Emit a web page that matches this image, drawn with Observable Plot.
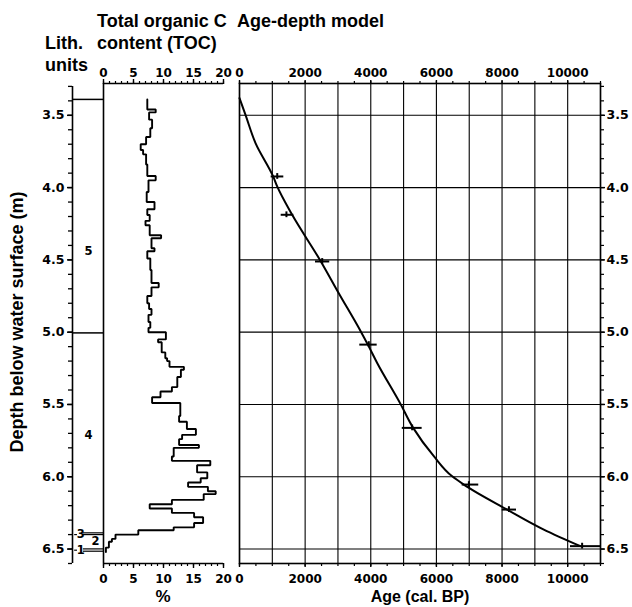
<!DOCTYPE html>
<html><head><meta charset="utf-8">
<script src="https://cdn.jsdelivr.net/npm/d3@7"></script>
<script src="https://cdn.jsdelivr.net/npm/@observablehq/plot@0.6"></script>
<style>
body{margin:0;background:#fff;}
#wrap{position:relative;width:632px;height:607px;overflow:hidden;font-family:"Liberation Sans",Arial,sans-serif;font-weight:bold;color:#000;}
#wrap svg{position:absolute;left:0;top:0;}
.t{position:absolute;white-space:nowrap;font-size:18px;line-height:1;}
</style></head><body><div id="wrap"></div>
<script>
// ---------- data ----------
const depthDomain = [3.28, 6.6];
const depthMajorTicks = [3.5, 4.0, 4.5, 5.0, 5.5, 6.0, 6.5];
const depthMinorTicks = [3.3,3.4,3.5,3.6,3.7,3.8,3.9,4.0,4.1,4.2,4.3,4.4,4.5,4.6,4.7,4.8,4.9,5.0,5.1,5.2,5.3,5.4,5.5,5.6,5.7,5.8,5.9,6.0,6.1,6.2,6.3,6.4,6.5,6.6];
const depthAxisSpan = [3.3, 6.6];

const tocMajorTicks = [0, 5, 10, 15, 20];
const tocMinorTicks = [0,1,2,3,4,5,6,7,8,9,10,11,12,13,14,15,16,17,18,19,20];

const ageMajorTicks = [0, 2000, 4000, 6000, 8000, 10000];
const ageGridTicks = [0,1000,2000,3000,4000,5000,6000,7000,8000,9000,10000,11000];
const ageMinorTicks = [0,500,1000,1500,2000,2500,3000,3500,4000,4500,5000,5500,6000,6500,7000,7500,8000,8500,9000,9500,10000,10500,11000];

// lithological units
const lithBoundaries = [3.39, 5.005];
const lithThinLines = [6.388, 6.400, 6.499, 6.515];
const lithLeaders = [6.40, 6.508];
const lithLabelText = ["5", "4", "3", "2", "1"];
const lithLabelDepth = [4.44, 5.715, 6.40, 6.445, 6.508];
const lithLabelPos = [0.52, 0.52, 0.27, 0.74, 0.27];

// TOC (%) step profile: top depth of each sample interval and its value
const tocTopDepth = [3.39,3.46,3.48,3.53,3.59,3.65,3.70,3.74,3.77,3.84,3.92,3.95,4.03,4.10,4.15,4.19,4.23,4.26,4.33,4.35,4.42,4.44,4.49,4.57,4.66,4.69,4.75,4.80,4.84,4.88,4.93,4.97,5.00,5.05,5.07,5.14,5.18,5.20,5.24,5.26,5.31,5.38,5.41,5.45,5.49,5.58,5.62,5.67,5.71,5.74,5.78,5.80,5.86,5.89,5.92,5.97,6.01,6.04,6.07,6.10,6.12,6.16,6.19,6.22,6.25,6.28,6.32,6.35,6.37,6.40,6.43,6.45,6.49];
const tocValue = [7.3,8.7,7.6,8.1,7.8,7.1,6.2,6.6,7.1,7.3,8.7,7.5,7.2,8.5,7.3,7.7,7.0,7.7,9.6,8.0,8.5,7.3,7.8,8.0,9.2,8.0,7.3,7.6,8.0,7.5,7.8,7.5,10.4,9.1,9.7,10.3,10.6,11.0,13.4,12.9,12.3,11.4,9.5,8.1,12.8,12.6,13.9,15.4,13.1,12.6,15.9,11.7,11.4,17.8,15.6,17.3,16.2,14.1,17.4,18.7,16.7,11.4,7.7,11.4,15.1,16.6,15.1,11.7,5.8,2.0,1.4,0.9,0.4];
const tocBottomDepth = 6.52;

// age-depth model curve
const curveAge = [0,183,488,1026,1148,1605,2448,3020,3700,3910,4195,4905,5292,5921,6481,6835,8156,9272,10390];
const curveDepth = [3.381,3.497,3.692,3.923,3.992,4.188,4.499,4.729,4.997,5.086,5.213,5.496,5.662,5.858,5.997,6.054,6.227,6.365,6.48];

// calibrated dates with age ranges
const dateDepth = [3.923, 4.188, 4.511, 5.086, 5.662, 6.054, 6.227, 6.48];
const dateAge = [1150, 1430, 2520, 3940, 5260, 6990, 8210, 10440];
const dateAgeMin = [965, 1270, 2315, 3665, 4960, 6785, 8005, 10085];
const dateAgeMax = [1350, 1655, 2750, 4195, 5565, 7290, 8440, 11000];
const dateTickHalf = 0.02;

// ---------- build ----------
const W = 632, H = 607, MT = 83, MB = 44;
const style = {fontFamily: "DejaVu Sans", fontWeight: "bold", fontSize: "12px", background: "transparent", overflow: "visible", color: "#000"};
const fmt1 = d3.format(".1f");
const blank = () => "";
const wrap = document.getElementById("wrap");

function place(svg){ wrap.appendChild(svg); }

// Panel 1: depth axis + lith units
place(Plot.plot({
  width: W, height: H, marginTop: MT, marginBottom: MB, marginLeft: 72, marginRight: W - 103,
  style,
  x: {domain: [0, 1], axis: null},
  y: {domain: depthDomain, reverse: true},
  marks: [
    Plot.ruleX([0], {y1: depthAxisSpan[0], y2: depthAxisSpan[1], strokeWidth: 1.6}),
    Plot.axisY({anchor: "left", ticks: depthMinorTicks, tickSize: 4, tickFormat: blank, label: null, strokeWidth: 1.3}),
    Plot.axisY({anchor: "left", ticks: depthMajorTicks, tickSize: 5, tickPadding: 3, tickFormat: fmt1, label: null, strokeWidth: 1.5, fontSize: 12.5}),
    Plot.ruleY(lithBoundaries, {x1: 0, x2: 1, strokeWidth: 1.5}),
    Plot.ruleY(lithThinLines, {x1: 0.35, x2: 1, strokeWidth: 1.2}),
    Plot.ruleY(lithLeaders, {x1: 0.07, x2: 0.16, strokeWidth: 1.2}),
    Plot.text(lithLabelText.map((t, i) => ({t, x: lithLabelPos[i], y: lithLabelDepth[i]})),
      {x: "x", y: "y", text: "t", fontSize: 11.5, fontWeight: "bold"})
  ]
}));

// Panel 2: TOC
const tocPts = [];
tocValue.forEach((v, i) => {
  const top = tocTopDepth[i];
  const bot = i + 1 < tocTopDepth.length ? tocTopDepth[i + 1] : tocBottomDepth;
  tocPts.push({x: v, y: top}, {x: v, y: bot});
});
place(Plot.plot({
  width: W, height: H, marginTop: MT, marginBottom: MB, marginLeft: 103, marginRight: W - 223,
  style,
  x: {domain: [0, 20]},
  y: {domain: depthDomain, reverse: true, axis: null},
  marks: [
    Plot.ruleX([0], {strokeWidth: 1.6}),
    Plot.ruleY(depthDomain, {strokeWidth: 1.4}),
    Plot.axisX({anchor: "top", ticks: tocMinorTicks, tickSize: 3, tickFormat: blank, label: null, strokeWidth: 1.2}),
    Plot.axisX({anchor: "top", ticks: tocMajorTicks, tickSize: 5, tickPadding: 2, label: null, strokeWidth: 1.4}),
    Plot.axisX({anchor: "bottom", ticks: tocMinorTicks, tickSize: 3, tickFormat: blank, label: null, strokeWidth: 1.2}),
    Plot.axisX({anchor: "bottom", ticks: tocMajorTicks, tickSize: 5, tickPadding: 6, label: null, strokeWidth: 1.4}),
    Plot.line(tocPts, {x: "x", y: "y", stroke: "#000", strokeWidth: 1.9, strokeLinejoin: "miter"})
  ]
}));

// Panel 3: age-depth model
const curvePts = curveAge.map((a, i) => ({a, d: curveDepth[i]}));
const dates = dateAge.map((a, i) => ({a, lo: dateAgeMin[i], hi: dateAgeMax[i], d: dateDepth[i], d1: dateDepth[i] - dateTickHalf, d2: dateDepth[i] + dateTickHalf}));
place(Plot.plot({
  width: W, height: H, marginTop: MT, marginBottom: MB, marginLeft: 239, marginRight: W - 600,
  style,
  x: {domain: [0, 11000]},
  y: {domain: depthDomain, reverse: true},
  marks: [
    Plot.gridX({ticks: ageGridTicks, stroke: "#000", strokeOpacity: 1, strokeWidth: 1.1}),
    Plot.gridY({ticks: depthMajorTicks, stroke: "#000", strokeOpacity: 1, strokeWidth: 1.1}),
    Plot.frame({strokeWidth: 1.6}),
    Plot.axisX({anchor: "top", ticks: ageMinorTicks, tickSize: 3, tickFormat: blank, label: null, strokeWidth: 1.2}),
    Plot.axisX({anchor: "top", ticks: ageMajorTicks, tickSize: 4, tickPadding: 3, tickFormat: d3.format("d"), label: null, strokeWidth: 1.4}),
    Plot.axisX({anchor: "bottom", ticks: ageMinorTicks, tickSize: 3, tickFormat: blank, label: null, strokeWidth: 1.2}),
    Plot.axisX({anchor: "bottom", ticks: ageMajorTicks, tickSize: 4, tickPadding: 7, tickFormat: d3.format("d"), label: null, strokeWidth: 1.4}),
    Plot.axisY({anchor: "right", ticks: depthMinorTicks, tickSize: 3, tickFormat: blank, label: null, strokeWidth: 1.2}),
    Plot.axisY({anchor: "right", ticks: depthMajorTicks, tickSize: 4, tickPadding: 2, tickFormat: fmt1, label: null, strokeWidth: 1.4, fontSize: 12.5}),
    Plot.line(curvePts, {x: "a", y: "d", curve: "monotone-y", stroke: "#000", strokeWidth: 2}),
    Plot.ruleY(dates, {y: "d", x1: "lo", x2: "hi", strokeWidth: 2}),
    Plot.ruleX(dates, {x: "a", y1: "d1", y2: "d2", strokeWidth: 2})
  ]
}));

// ---------- text labels ----------
function label(txt, left, baseline, size, extra){
  const d = document.createElement("div");
  d.className = "t";
  d.textContent = txt;
  d.style.fontSize = size + "px";
  d.style.left = left + "px";
  d.style.top = (baseline - 0.905 * size) + "px";
  if (extra) Object.assign(d.style, extra);
  wrap.appendChild(d);
  return d;
}
label("Total organic C", 97, 28, 18);
label("content (TOC)", 97, 50, 18);
label("Lith.", 45, 50, 18);
label("units", 45, 72, 18);
label("Age-depth model", 237, 28, 18);
label("%", 163, 603, 17, {transform: "translateX(-50%)"});
label("Age (cal. BP)", 420, 603, 16, {transform: "translateX(-50%)"});
const yl = document.createElement("div");
yl.className = "t";
yl.textContent = "Depth below water surface (m)";
Object.assign(yl.style, {fontSize: "18px", left: "17px", top: "322px", transform: "translate(-50%,-50%) rotate(-90deg)"});
wrap.appendChild(yl);
</script>
</body></html>
